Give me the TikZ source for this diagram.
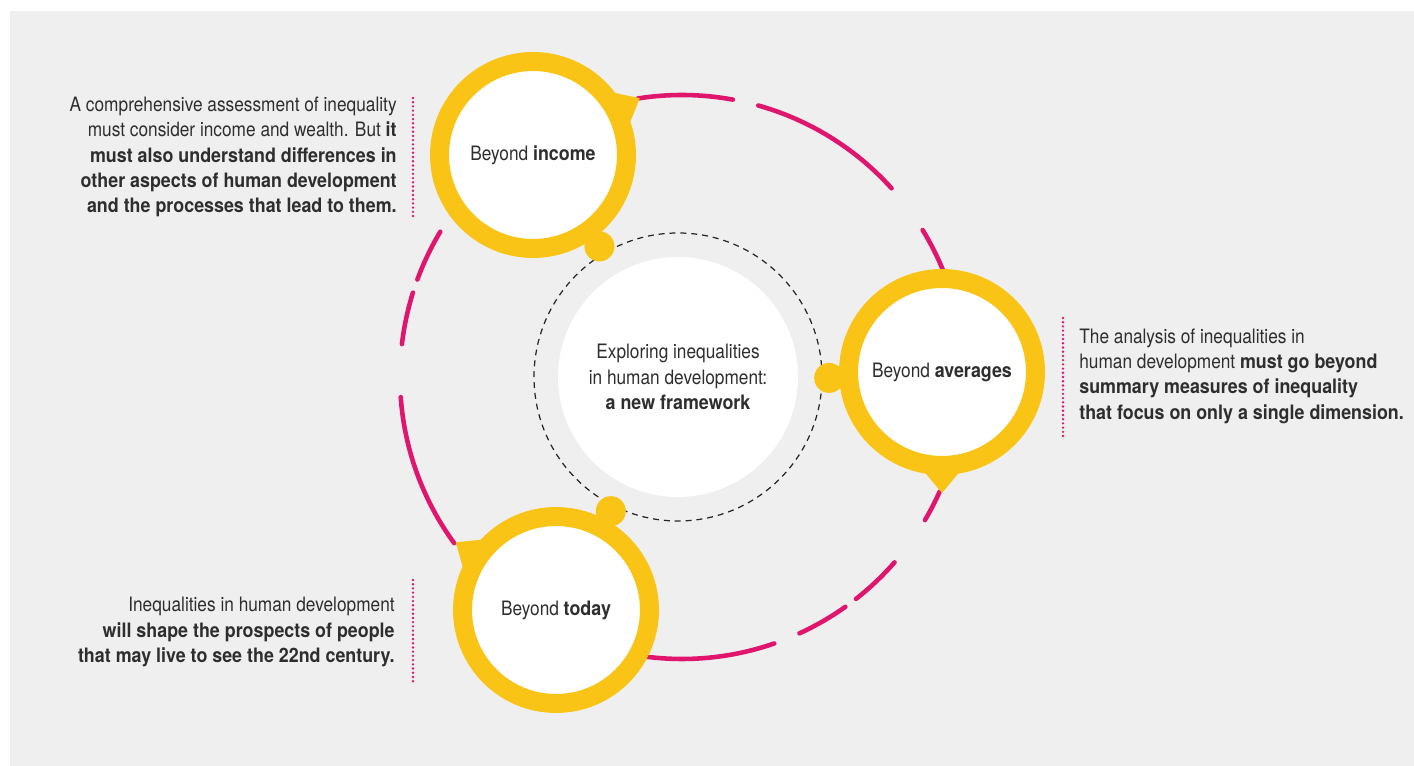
\documentclass[tikz,border=0pt]{standalone}
\usepackage{fontspec}
\setmainfont{TeX Gyre Heros}[FakeStretch=0.87, BoldFeatures={FakeStretch=0.9}]
\usetikzlibrary{calc}

\definecolor{hdrYellow}{HTML}{F9C416}
\definecolor{hdrPink}{HTML}{E0166E}
\definecolor{hdrGray}{HTML}{EFEFEF}
\definecolor{hdrText}{HTML}{2E2E2E}

\tikzset{
  note/.style={inner sep=0pt, font=\fontsize{11.3}{14.4}\selectfont, text=hdrText},
  stage/.style={circle, draw=hdrYellow, line width=10.8pt, fill=white,
    minimum size=3.74cm, font=\fontsize{11.3}{14.4}\selectfont, text=hdrText},
  ringarc/.style={hdrPink, line width=2.6pt, line cap=round},
  pinkdots/.style={hdrPink, line width=1.5pt, line cap=round, dash pattern=on 0pt off 2.4pt},
}

\begin{document}
\begin{tikzpicture}[x=0.02cm, y=0.02cm]
  % Help lines
  %\draw[help lines, step=50, gray!50] (0,0) grid (1414,766);
  \useasboundingbox (0,0) rectangle (1414,766);
  \fill[white] (0,0) rectangle (1414,766);
  \fill[hdrGray] (10,0) rectangle (1414,755);
  \coordinate (ring) at (682,389);
  \coordinate (mid) at (678,389);
  % broken ring
  \foreach \a/\b in {99/79.6, 74.3/42, 31.4/15, -24/-30.5, -41.1/-51.9,
                     -54.6/-65.4, -70.9/-100, 216.1/184.1, 173.3/162.6, 159.8/149}
    \draw[ringarc] ($(ring)+(\a:282)$) arc[start angle=\a, end angle=\b, radius=282];
  \draw[black!85, line width=0.7pt, dash pattern=on 3.4pt off 2.8pt] (mid) circle[radius=144];
  \node[circle, fill=white, minimum size=4.8cm, align=center, note] (frame) at (mid)
    {Exploring inequalities\\in human development:\\\textbf{a new framework}};
  % the three stages
  \node[stage] (income) at (533,611) {Beyond \textbf{income}};
  \node[stage] (averages) at (942,394) {Beyond \textbf{averages}};
  \node[stage] (today) at (556,156) {Beyond \textbf{today}};
  \foreach \s/\t/\k in {income/28/-54, averages/-90/183, today/146/61}{
    \fill[hdrYellow] ($(\s)+(\t-11:100)$) -- ($(\s)+(\t:121)$) -- ($(\s)+(\t+11:100)$) -- cycle;
    \fill[hdrYellow] ($(\s)+(\k:113)$) circle[radius=15];
  }
  % notes
  \node[note, anchor=east, align=right] (incomeNote) at (397,609)
    {A comprehensive assessment of inequality\\must consider income and wealth. But \textbf{it}\\
     \textbf{must also understand differences in}\\\textbf{other aspects of human development}\\
     \textbf{and the processes that lead to them.}};
  \node[note, anchor=west, align=left] (averagesNote) at (1079,390)
    {The analysis of inequalities in\\human development \textbf{must go beyond}\\
     \textbf{summary measures of inequality}\\\textbf{that focus on only a single dimension.}};
  \node[note, anchor=east, align=right] (todayNote) at (395,134)
    {Inequalities in human development\\\textbf{will shape the prospects of people}\\
     \textbf{that may live to see the 22nd century.}};
  \draw[pinkdots] (413,668) -- (413,549);
  \draw[pinkdots] (1063,448) -- (1063,328);
  \draw[pinkdots] (413,186) -- (413,81);
\end{tikzpicture}
\end{document}
